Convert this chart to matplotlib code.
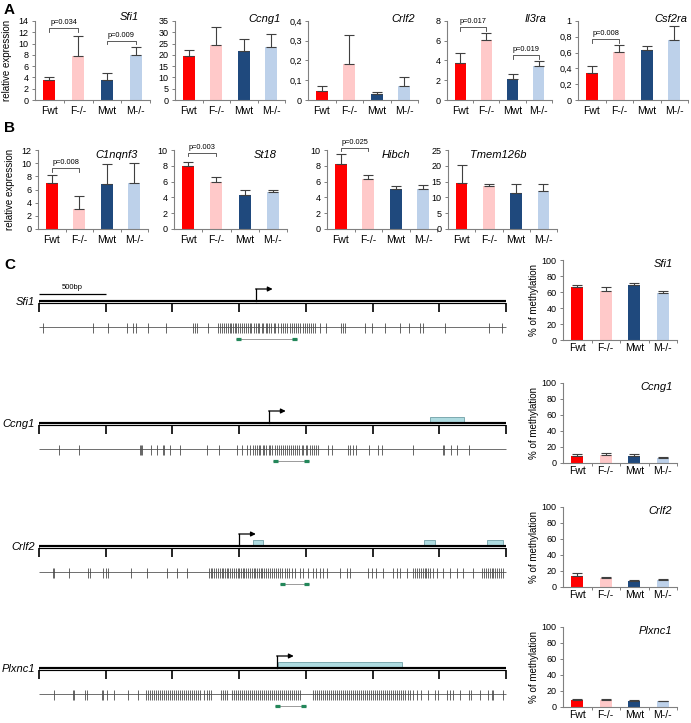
import numpy as np
import matplotlib.pyplot as plt
from matplotlib.patches import Rectangle

plt.rcParams['font.family'] = ['Liberation Sans', 'DejaVu Sans']

groups = ['Fwt', 'F-/-', 'Mwt', 'M-/-']
bar_colors = ['#FF0000', '#FFC9C9', '#1F497D', '#BDD1EA']

# ---- A: expression ----
sfi1_expr = [3.6, 7.8, 3.6, 7.9]
sfi1_err = [0.5, 3.6, 1.2, 1.5]
ccng1_expr = [19.5, 24.5, 21.9, 23.7]
ccng1_err = [2.6, 7.8, 5.2, 5.4]
crlf2_expr = [0.048, 0.18, 0.03, 0.073]
crlf2_err = [0.022, 0.15, 0.012, 0.045]
il3ra_expr = [3.7, 6.03, 2.17, 3.4]
il3ra_err = [1.06, 0.8, 0.5, 0.53]
csf2ra_expr = [0.34, 0.605, 0.63, 0.765]
csf2ra_err = [0.09, 0.085, 0.05, 0.175]

# ---- B: expression ----
c1nqnf3_expr = [6.95, 3.0, 6.85, 7.05]
c1nqnf3_err = [1.25, 1.95, 3.0, 2.95]
st18_expr = [7.97, 5.93, 4.36, 4.66]
st18_err = [0.55, 0.64, 0.64, 0.34]
hibch_expr = [8.24, 6.3, 5.04, 5.04]
hibch_err = [1.2, 0.55, 0.34, 0.5]
tmem126b_expr = [14.6, 13.6, 11.4, 12.0]
tmem126b_err = [5.6, 0.5, 2.7, 2.1]

# ---- C: methylation (%) ----
meth_sfi1 = [66, 61, 69, 59]
meth_sfi1_err = [3, 5, 2.5, 2.5]
meth_ccng1 = [9, 10, 8.5, 6.5]
meth_ccng1_err = [2, 2.5, 2.5, 0.5]
meth_crlf2 = [14, 11, 7.5, 9]
meth_crlf2_err = [4, 2, 1.5, 1]
meth_plxnc1 = [9, 8.5, 7, 7]
meth_plxnc1_err = [0.5, 1.5, 1.5, 0.5]

# ---- C: gene maps (positions in bp) ----
scale_ticks = [0, 500, 1000, 1500, 2000, 2500, 3000, 3500]
gene_names = ['Sfi1', 'Ccng1', 'Crlf2', 'Plxnc1']
tss_pos = [1626, 1724, 1500, 1784]
exon_boxes = [[], [(2930, 3185)], [(1604, 1679), (2885, 2968), (3358, 3477)], [(1791, 2720)]]
amplicons = [(1476, 1934), (1754, 2024), (1806, 2024), (1769, 2001)]

sfi1_cpg = [30, 405, 517, 660, 705, 727, 817, 952, 1154, 1169, 1184, 1267,
            1342, 1360, 1372, 1390, 1401, 1415, 1430, 1441, 1455, 1470, 1478, 1495,
            1510, 1522, 1540, 1548, 1563, 1580, 1592, 1610, 1625, 1640, 1652, 1668,
            1680, 1700, 1712, 1725, 1741, 1760, 1772, 1790, 1815, 1830, 1845, 1862,
            1880, 1893, 1910, 1925, 1940, 1958, 1975, 1990, 2005, 2020, 2035, 2050,
            2069, 2106, 2151, 2263, 2278, 2293, 2443, 2496, 2593, 2706, 2773, 2855,
            2878, 3043, 3373, 3470]
ccng1_cpg = [150, 300, 757, 764, 772, 839, 884, 929, 937, 982, 1057, 1259, 1349,
             1484, 1521, 1559, 1581, 1604, 1620, 1635, 1648, 1660, 1678, 1690, 1705,
             1722, 1735, 1750, 1768, 1780, 1795, 1812, 1830, 1842, 1858, 1875, 1890,
             1905, 1922, 1936, 1950, 1968, 1982, 1998, 2012, 2030, 2045, 2060, 2075,
             2091, 2166, 2196, 2316, 2331, 2353, 2376, 2473, 2541, 2571, 2803, 3028,
             3035, 3088, 3133, 3223]
crlf2_cpg = [105, 112, 225, 367, 382, 480, 502, 517, 690, 809, 959, 1034, 1109,
             1274, 1288, 1300, 1315, 1328, 1340, 1355, 1368, 1380, 1395, 1408, 1420,
             1435, 1448, 1460, 1475, 1488, 1500, 1515, 1528, 1540, 1555, 1568, 1580,
             1595, 1608, 1620, 1635, 1650, 1662, 1675, 1690, 1702, 1715, 1730, 1745,
             1760, 1775, 1790, 1805, 1822, 1840, 1858, 1875, 1895, 1919, 1956, 1979,
             2016, 2053, 2076, 2106, 2128, 2158, 2256, 2308, 2331, 2466, 2496, 2526,
             2578, 2653, 2683, 2706, 2758, 2803, 2818, 2835, 2848, 2860, 2875, 2890,
             2900, 2915, 2930, 2953, 2983, 3028, 3080, 3133, 3178, 3253, 3320, 3335,
             3350, 3362, 3378, 3392, 3405, 3420, 3435, 3450, 3465, 3478]
plxnc1_cpg = [112, 255, 262, 345, 360, 472, 480, 510, 562, 667, 742,
              802, 818, 830, 848, 862, 875, 892, 905, 920, 936, 950, 966, 980, 995,
              1010, 1025, 1040, 1055, 1072, 1088, 1100, 1115, 1130, 1148, 1162, 1178,
              1195, 1210, 1240, 1258, 1275, 1290, 1365, 1380, 1395, 1410, 1450, 1462,
              1478, 1492, 1508, 1522, 1538, 1552, 1568, 1582, 1598, 1612, 1628, 1642,
              1658, 1672, 1688, 1702, 1718, 1732, 1748, 1762, 1778, 1792, 1808, 1822,
              1838, 1852, 1868, 1882, 1898, 1912, 1928, 1942, 1958, 2050, 2066, 2080,
              2095, 2110, 2126, 2140, 2156, 2170, 2186, 2200, 2216, 2230, 2246, 2260,
              2276, 2290, 2306, 2320, 2336, 2350, 2366, 2380, 2396, 2410, 2426, 2440,
              2456, 2470, 2486, 2500, 2516, 2530, 2546, 2560, 2576, 2590, 2606, 2620,
              2636, 2650, 2666, 2680, 2696, 2710, 2726, 2745, 2765, 2780, 2803, 2833,
              2863, 2916, 2968, 2991, 3058, 3080, 3103, 3155, 3223, 3238, 3305, 3365,
              3395, 3403, 3478]
gene_cpgs = [sfi1_cpg, ccng1_cpg, crlf2_cpg, plxnc1_cpg]

W, H = 691, 723
fig = plt.figure(figsize=(W / 100, H / 100), dpi=100)


def px_axes(l, t, r, b):
    return fig.add_axes([l / W, 1 - b / H, (r - l) / W, (b - t) / H])


def bar_panel(ax, vals, errs, ylim, yticks, ylabels, title, tpos, brackets=(), xpad=4):
    x = np.arange(4)
    ax.bar(x, vals, width=0.42, color=bar_colors, zorder=2)
    ax.errorbar(x, vals, yerr=[np.zeros(4), errs], fmt='none', ecolor='#404040',
                elinewidth=0.8, capsize=3.5, capthick=0.8, zorder=3)
    ax.set_xlim(-0.5, 3.5)
    ax.set_ylim(*ylim)
    ax.set_yticks(yticks)
    ax.set_yticklabels(ylabels, fontsize=6.5)
    ax.set_xticks(x)
    ax.set_xticklabels(groups, fontsize=7.5)
    ax.set_xticks([0.5, 1.5, 2.5, 3.5], minor=True)
    ax.tick_params(axis='x', which='major', length=0, pad=xpad)
    ax.tick_params(axis='x', which='minor', length=2.5, width=0.7, color='#808080')
    ax.tick_params(axis='y', length=2.5, width=0.7, color='#808080', pad=2)
    for s in ['top', 'right']:
        ax.spines[s].set_visible(False)
    for s in ['left', 'bottom']:
        ax.spines[s].set_color('#808080')
        ax.spines[s].set_linewidth(0.8)
    ax.text(tpos[0], tpos[1], title, transform=ax.transAxes, ha='right', va='center',
            fontsize=8, style='italic')
    for i, j, y, drop, txt in brackets:
        ax.plot([i, i, j, j], [y - drop, y, y, y - drop], color='#404040', lw=0.6,
                clip_on=False)
        ax.annotate(txt, xy=((i + j) / 2, y), xytext=(0, 1.5), textcoords='offset points',
                    ha='center', va='bottom', fontsize=5.3, annotation_clip=False)


# Row A
a_panels = [
    (sfi1_expr, sfi1_err, (0, 14), range(0, 15, 2), None, 'Sfi1', (0.9, 1.05),
     [(0, 1, 12.8, 0.7, 'p=0.034'), (2, 3, 10.5, 0.5, 'p=0.009')], (35, 150)),
    (ccng1_expr, ccng1_err, (0, 35), range(0, 36, 5), None, 'Ccng1', (0.96, 1.03), [], (175, 285)),
    (crlf2_expr, crlf2_err, (0, 0.4), [0, 0.1, 0.2, 0.3, 0.4], ['0', '0,1', '0,2', '0,3', '0,4'],
     'Crlf2', (0.97, 1.03), [], (308, 418)),
    (il3ra_expr, il3ra_err, (0, 8), range(0, 9, 2), None, 'Il3ra', (0.95, 1.03),
     [(0, 1, 7.43, 0.45, 'p=0.017'), (2, 3, 4.57, 0.4, 'p=0.019')], (447, 552)),
    (csf2ra_expr, csf2ra_err, (0, 1), [0, 0.2, 0.4, 0.6, 0.8, 1], ['0', '0,2', '0,4', '0,6', '0,8', '1'],
     'Csf2ra', (0.99, 1.03), [(0, 1, 0.77, 0.05, 'p=0.008')], (578, 688)),
]
for vals, errs, ylim, yt, yl, title, tpos, br, (l, r) in a_panels:
    ax = px_axes(l, 21, r, 100)
    yt = list(yt)
    bar_panel(ax, vals, errs, ylim, yt, yl if yl else [str(v) for v in yt], title, tpos, br)
    if title == 'Sfi1':
        ax.set_ylabel('relative expression', fontsize=7, labelpad=5)

# Row B
b_panels = [
    (c1nqnf3_expr, c1nqnf3_err, (0, 12), range(0, 13, 2), 'C1nqnf3', (0.91, 0.94),
     [(0, 1, 9.24, 0.55, 'p=0.008')], (38, 148)),
    (st18_expr, st18_err, (0, 10), range(0, 11, 2), 'St18', (0.91, 0.94),
     [(0, 1, 9.66, 0.42, 'p=0.003')], (174, 287)),
    (hibch_expr, hibch_err, (0, 10), range(0, 11, 2), 'Hibch', (0.76, 0.94),
     [(0, 1, 10.3, 0.4, 'p=0.025')], (327, 437)),
    (tmem126b_expr, tmem126b_err, (0, 25), range(0, 26, 5), 'Tmem126b', (0.72, 0.94), [], (448, 557)),
]
for vals, errs, ylim, yt, title, tpos, br, (l, r) in b_panels:
    ax = px_axes(l, 150, r, 229)
    yt = list(yt)
    bar_panel(ax, vals, errs, ylim, yt, [str(v) for v in yt], title, tpos, br)
    if title == 'C1nqnf3':
        ax.set_ylabel('relative expression', fontsize=7, labelpad=5)

# Methylation panels
meth_sets = [(meth_sfi1, meth_sfi1_err), (meth_ccng1, meth_ccng1_err),
             (meth_crlf2, meth_crlf2_err), (meth_plxnc1, meth_plxnc1_err)]
meth_tops = [260, 383, 507, 627]
for name, (vals, errs), top in zip(gene_names, meth_sets, meth_tops):
    ax = px_axes(563, top, 677, top + 80)
    yt = list(range(0, 101, 20))
    bar_panel(ax, vals, errs, (0, 100), yt, [str(v) for v in yt], name, (0.96, 0.95), xpad=2.5)
    ax.set_ylabel('% of methylation', fontsize=7, labelpad=2)

# Gene maps
line_y = [302, 424, 547, 669]
k = 467 / 3500  # px per bp
for gi, (name, y0) in enumerate(zip(gene_names, line_y)):
    ax = px_axes(29, y0 - 25, 516, y0 + 45)
    ax.set_xlim(-10 / k, 3500 + 10 / k)
    ax.set_ylim(45, -25)
    ax.axis('off')
    for s, e in exon_boxes[gi]:
        ax.add_patch(Rectangle((s, -7.5), e - s, 6, facecolor='#AEDBE0',
                               edgecolor='#6F9FA6', lw=0.6, zorder=1))
    ax.hlines(0, 0, 3500, color='black', lw=3.0, zorder=2)
    ax.hlines(0, 0, 3500, color='white', lw=0.6, zorder=3)
    ax.vlines(scale_ticks, 1, 10, color='black', lw=1.2, zorder=2)
    tss = tss_pos[gi]
    ax.plot([tss, tss], [-1, -13], color='black', lw=0.9, zorder=4)
    ax.annotate('', xy=(tss + 125, -13), xytext=(tss - 3, -13),
                arrowprops=dict(arrowstyle='-|>', color='black', lw=0.9,
                                mutation_scale=7, shrinkA=0, shrinkB=0))
    ax.hlines(25, 0, 3500, color='#6E6E6E', lw=0.7)
    ax.vlines(gene_cpgs[gi], 20.5, 30.5, color='#4A4A4A', lw=0.7, alpha=0.85)
    a0, a1 = amplicons[gi]
    ax.hlines(37, a0, a1, color='#9A9A9A', lw=0.7)
    ax.hlines(37, a0, a0 + 40, color='#23875A', lw=2.3)
    ax.hlines(37, a1 - 40, a1, color='#23875A', lw=2.3)
    ax.text(-30, 0, name, ha='right', va='center', fontsize=8, style='italic',
            clip_on=False)
    if name == 'Sfi1':
        ax.hlines(-8, 0, 500, color='black', lw=0.9)
        ax.text(250, -11, '500bp', ha='center', va='bottom', fontsize=5.5)

# Panel letters
fig.text(4 / W, 1 - 10 / H, 'A', fontsize=11, fontweight='bold', va='center')
fig.text(4 / W, 1 - 128 / H, 'B', fontsize=11, fontweight='bold', va='center')
fig.text(4 / W, 1 - 265 / H, 'C', fontsize=11, fontweight='bold', va='center')

fig.savefig('out.png', dpi=100)
